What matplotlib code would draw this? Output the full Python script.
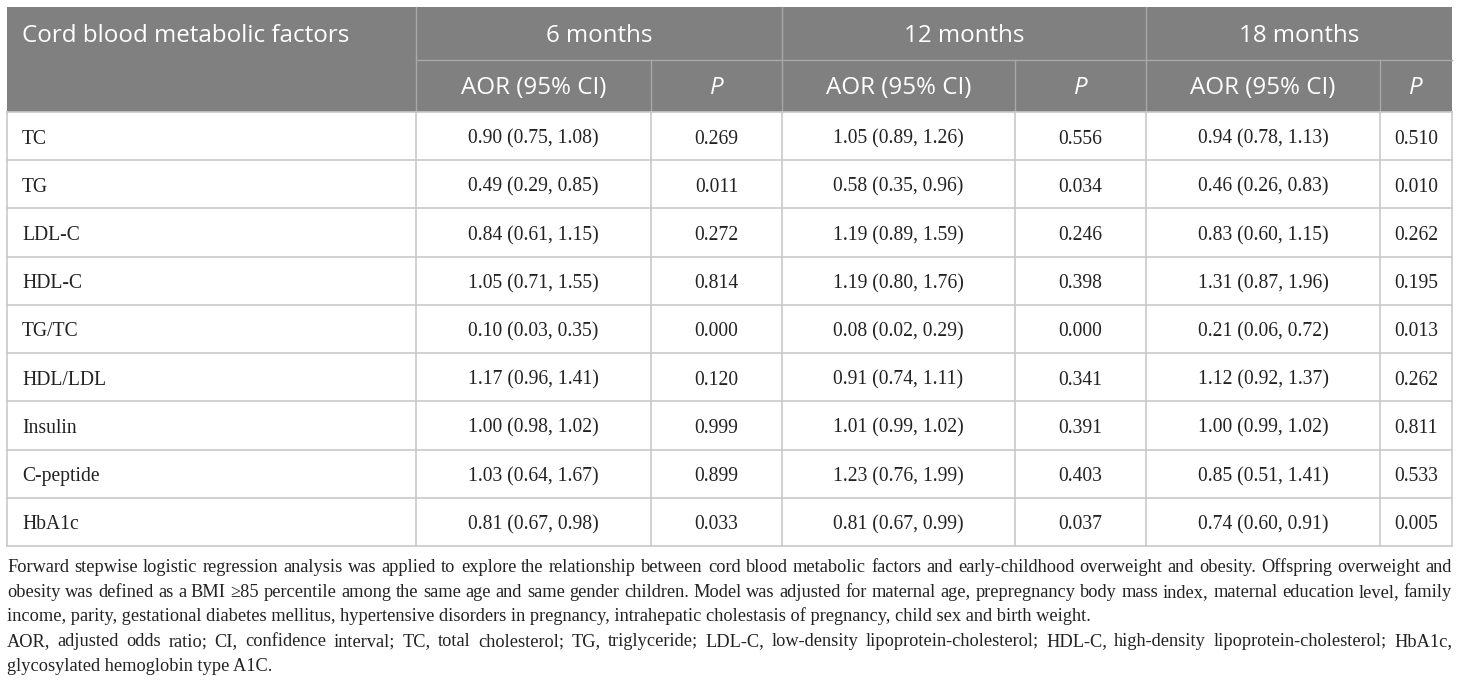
import matplotlib.pyplot as plt
from matplotlib.patches import Rectangle

factors = ["TC", "TG", "LDL-C", "HDL-C", "TG/TC", "HDL/LDL", "Insulin", "C-peptide", "HbA1c"]
periods = ["6 months", "12 months", "18 months"]

# adjusted odds ratio, lower / upper 95% CI and P for each follow-up
aor_6 = [0.90, 0.49, 0.84, 1.05, 0.10, 1.17, 1.00, 1.03, 0.81]
lo_6 = [0.75, 0.29, 0.61, 0.71, 0.03, 0.96, 0.98, 0.64, 0.67]
hi_6 = [1.08, 0.85, 1.15, 1.55, 0.35, 1.41, 1.02, 1.67, 0.98]
p_6 = [0.269, 0.011, 0.272, 0.814, 0.000, 0.120, 0.999, 0.899, 0.033]

aor_12 = [1.05, 0.58, 1.19, 1.19, 0.08, 0.91, 1.01, 1.23, 0.81]
lo_12 = [0.89, 0.35, 0.89, 0.80, 0.02, 0.74, 0.99, 0.76, 0.67]
hi_12 = [1.26, 0.96, 1.59, 1.76, 0.29, 1.11, 1.02, 1.99, 0.99]
p_12 = [0.556, 0.034, 0.246, 0.398, 0.000, 0.341, 0.391, 0.403, 0.037]

aor_18 = [0.94, 0.46, 0.83, 1.31, 0.21, 1.12, 1.00, 0.85, 0.74]
lo_18 = [0.78, 0.26, 0.60, 0.87, 0.06, 0.92, 0.99, 0.51, 0.60]
hi_18 = [1.13, 0.83, 1.15, 1.96, 0.72, 1.37, 1.02, 1.41, 0.91]
p_18 = [0.510, 0.010, 0.262, 0.195, 0.013, 0.262, 0.811, 0.533, 0.005]

footnote = [
    "Forward stepwise logistic regression analysis was applied to explore the relationship between cord blood metabolic factors and early-childhood overweight and obesity. Offspring overweight and",
    "obesity was defined as a BMI \u226585 percentile among the same age and same gender children. Model was adjusted for maternal age, prepregnancy body mass index, maternal education level, family",
    "income, parity, gestational diabetes mellitus, hypertensive disorders in pregnancy, intrahepatic cholestasis of pregnancy, child sex and birth weight.",
    "AOR, adjusted odds ratio; CI, confidence interval; TC, total cholesterol; TG, triglyceride; LDL-C, low-density lipoprotein-cholesterol; HDL-C, high-density lipoprotein-cholesterol; HbA1c,",
    "glycosylated hemoglobin type A1C.",
]
justified = [True, True, False, True, False]

results = [(aor_6, lo_6, hi_6, p_6), (aor_12, lo_12, hi_12, p_12), (aor_18, lo_18, hi_18, p_18)]

# layout in pixels
W, H = 1460, 683
col_x = [7, 416, 651, 782, 1015, 1146, 1380, 1452]
head_top, head_mid, head_bot = 7, 60, 112
row_h = (546 - head_bot) / len(factors)
head_bg = "#808080"
head_line = "#a8a8a8"
grid = "#c9c9c9"
ink = "#222222"
sans = ["Open Sans", "DejaVu Sans"]
serif = ["Liberation Serif", "DejaVu Serif"]

fig = plt.figure(figsize=(W / 100, H / 100), dpi=100)
ax = fig.add_axes([0, 0, 1, 1])
ax.set_xlim(0, W)
ax.set_ylim(H, 0)
ax.axis("off")
renderer = fig.canvas.get_renderer()


def text_w(s, size, family, style="normal"):
    t = ax.text(0, 0, s, fontsize=size, family=family, style=style)
    w = t.get_window_extent(renderer).width
    t.remove()
    return w


def fit(s, target, family):
    return 10 * target / text_w(s, 10, family)


head_fs = fit("AOR (95% CI)", 145, sans)
body_fs = fit("1.05 (0.89, 1.26)", 130, serif)
foot_fs = fit(footnote[4], 270, serif)
for line, j in zip(footnote, justified):
    if j:
        foot_fs = min(foot_fs, fit(line, 1438, serif))

# header block
ax.add_patch(Rectangle((col_x[0], head_top), col_x[-1] - col_x[0], head_bot - head_top,
                       facecolor=head_bg, edgecolor="none"))
ax.plot([col_x[1], col_x[-1]], [head_mid, head_mid], color=head_line, lw=1)
for x in (col_x[1], col_x[3], col_x[5]):
    ax.plot([x, x], [head_top, head_bot], color=head_line, lw=1)
for x in (col_x[2], col_x[4], col_x[6]):
    ax.plot([x, x], [head_mid, head_bot], color=head_line, lw=1)

hy1 = (head_top + head_mid) / 2 + 8.5
hy2 = (head_mid + head_bot) / 2 + 8.5
ax.text(22, hy1, "Cord blood metabolic factors", color="white", fontsize=head_fs,
        family=sans, va="baseline", ha="left")
for k, name in enumerate(periods):
    x0, x1, x2 = col_x[1 + 2 * k], col_x[2 + 2 * k], col_x[3 + 2 * k]
    ax.text((x0 + x2) / 2, hy1, name, color="white", fontsize=head_fs, family=sans,
            va="baseline", ha="center")
    ax.text((x0 + x1) / 2, hy2, "AOR (95% CI)", color="white", fontsize=head_fs,
            family=sans, va="baseline", ha="center")
    ax.text((x1 + x2) / 2, hy2, "P", color="white", fontsize=head_fs, family=sans,
            style="italic", va="baseline", ha="center")

# body grid
for i in range(len(factors) + 1):
    y = head_bot + i * row_h
    ax.plot([col_x[0], col_x[-1]], [y, y], color=grid, lw=1.2)
for x in col_x:
    ax.plot([x, x], [head_bot, head_bot + len(factors) * row_h], color=grid, lw=1.2)

for i, name in enumerate(factors):
    yb = head_bot + (i + 0.5) * row_h + 7.5
    ax.text(22, yb, name, color=ink, fontsize=body_fs, family=serif, va="baseline", ha="left")
    for k, (aor, lo, hi, p) in enumerate(results):
        x0, x1, x2 = col_x[1 + 2 * k], col_x[2 + 2 * k], col_x[3 + 2 * k]
        ax.text((x0 + x1) / 2, yb, f"{aor[i]:.2f} ({lo[i]:.2f}, {hi[i]:.2f})", color=ink,
                fontsize=body_fs, family=serif, va="baseline", ha="center")
        ax.text((x1 + x2) / 2, yb, f"{p[i]:.3f}", color=ink, fontsize=body_fs,
                family=serif, va="baseline", ha="center")

# footnote, justified like the journal layout
for n, (line, j) in enumerate(zip(footnote, justified)):
    yb = 572 + n * 24.7
    if not j:
        ax.text(col_x[0], yb, line, color=ink, fontsize=foot_fs, family=serif,
                va="baseline", ha="left")
        continue
    words = line.split(" ")
    widths = [text_w(w, foot_fs, serif) for w in words]
    gap = (col_x[-1] - col_x[0] - sum(widths)) / (len(words) - 1)
    x = col_x[0]
    for w, ww in zip(words, widths):
        ax.text(x, yb, w, color=ink, fontsize=foot_fs, family=serif, va="baseline", ha="left")
        x += ww + gap

fig.savefig("out.png", dpi=100, facecolor="white")
